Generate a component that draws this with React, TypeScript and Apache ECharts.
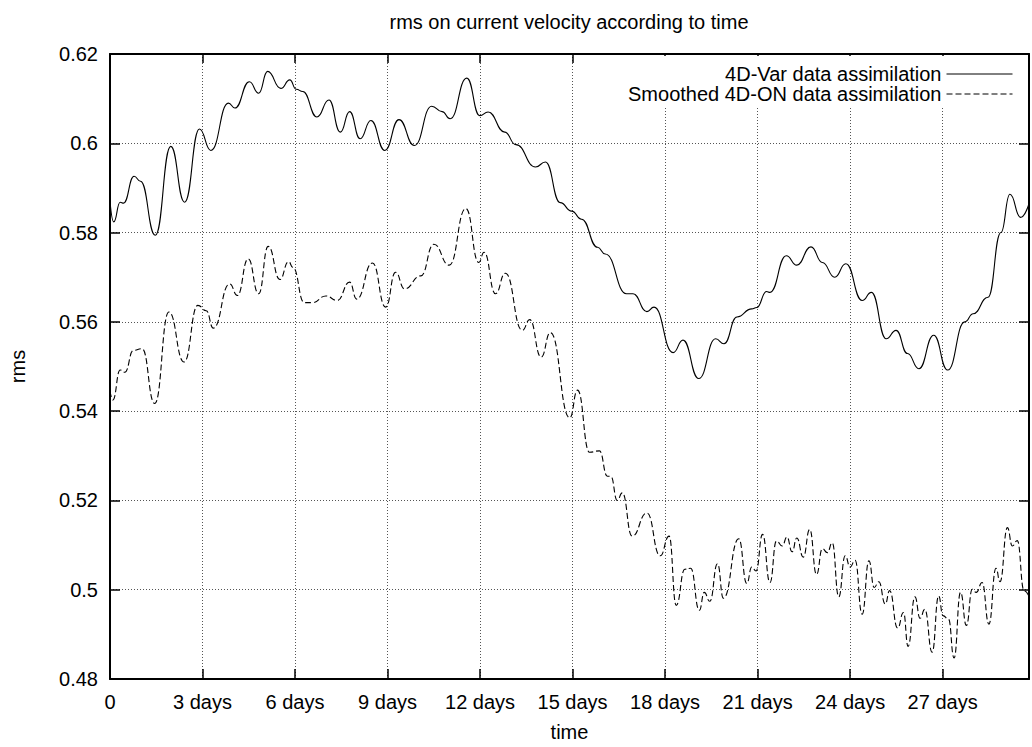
import { useEffect, useRef } from "react";
import * as echarts from "echarts";

// 4D-Var data assimilation (solid)
const varDays = [0, 0.12, 0.33, 0.44, 0.78, 0.99, 1.47, 1.97, 2.42, 2.9, 3.27, 3.84, 4.05, 4.52, 4.82, 5.11, 5.54, 5.83, 6.04, 6.25, 6.71, 7.1, 7.47, 7.77, 8.11, 8.46, 8.91, 9.37, 9.87, 10.43, 10.77, 11.03, 11.57, 11.99, 12.26, 12.8, 13.16, 13.8, 14.12, 14.6, 14.97, 15.29, 15.81, 16.06, 16.75, 16.96, 17.41, 17.64, 18.26, 18.58, 19.09, 19.64, 19.91, 20.33, 20.81, 20.97, 21.29, 21.4, 21.93, 22.27, 22.73, 23.1, 23.5, 23.86, 24.39, 24.69, 25.17, 25.49, 25.86, 26.23, 26.71, 27.16, 27.72, 27.99, 28.47, 28.89, 29.18, 29.53, 29.8];
const varRms = [0.587, 0.5824, 0.5868, 0.5866, 0.5926, 0.5915, 0.5794, 0.5993, 0.5868, 0.6032, 0.5984, 0.609, 0.6079, 0.6138, 0.6112, 0.6161, 0.6123, 0.6142, 0.6121, 0.6116, 0.6059, 0.6097, 0.6025, 0.6071, 0.601, 0.6051, 0.5984, 0.6053, 0.5995, 0.6083, 0.6071, 0.6055, 0.6146, 0.6062, 0.607, 0.6025, 0.5997, 0.5947, 0.5958, 0.5867, 0.5848, 0.583, 0.5767, 0.5752, 0.5663, 0.5663, 0.5623, 0.5633, 0.5531, 0.5559, 0.5473, 0.5562, 0.5551, 0.5611, 0.5629, 0.5632, 0.5668, 0.5666, 0.5748, 0.5727, 0.5768, 0.5733, 0.57, 0.573, 0.5648, 0.5666, 0.5562, 0.5581, 0.5529, 0.5495, 0.557, 0.5492, 0.56, 0.5618, 0.5655, 0.58, 0.5886, 0.5834, 0.5865];

// Smoothed 4D-ON data assimilation (dashed)
const onDays = [0, 0.09, 0.33, 0.48, 0.76, 1.04, 1.45, 1.91, 2.4, 2.85, 3.12, 3.35, 3.88, 4.13, 4.48, 4.82, 5.13, 5.51, 5.79, 5.93, 6.3, 6.57, 7.0, 7.37, 7.77, 8.0, 8.51, 8.94, 9.26, 9.55, 10.08, 10.5, 11.0, 11.54, 11.96, 12.13, 12.5, 12.82, 13.37, 13.61, 13.98, 14.28, 14.91, 15.16, 15.55, 15.87, 16.13, 16.24, 16.45, 16.61, 16.93, 17.41, 17.84, 18.13, 18.36, 18.64, 18.83, 19.11, 19.27, 19.45, 19.7, 19.89, 20.39, 20.65, 20.81, 20.95, 21.16, 21.4, 21.61, 21.8, 21.95, 22.12, 22.27, 22.48, 22.69, 22.91, 23.1, 23.26, 23.42, 23.63, 23.84, 24.0, 24.16, 24.39, 24.61, 24.78, 24.93, 25.14, 25.28, 25.54, 25.73, 25.88, 26.1, 26.27, 26.42, 26.66, 26.87, 27.01, 27.19, 27.37, 27.58, 27.77, 27.96, 28.09, 28.28, 28.5, 28.73, 28.86, 29.1, 29.26, 29.42, 29.64, 29.8];
const onRms = [0.5445, 0.5425, 0.5492, 0.5487, 0.5536, 0.554, 0.5417, 0.5622, 0.551, 0.5637, 0.5625, 0.5586, 0.5685, 0.5659, 0.5741, 0.5663, 0.5769, 0.5695, 0.5735, 0.5722, 0.5643, 0.5643, 0.5658, 0.5648, 0.5689, 0.5651, 0.5732, 0.5633, 0.5711, 0.5674, 0.5703, 0.5774, 0.5727, 0.5854, 0.5733, 0.5756, 0.5663, 0.5709, 0.5581, 0.5605, 0.5521, 0.5576, 0.5385, 0.5447, 0.5308, 0.5311, 0.5254, 0.5254, 0.52, 0.5217, 0.512, 0.5172, 0.5076, 0.512, 0.4965, 0.5046, 0.5048, 0.4954, 0.4994, 0.4974, 0.5058, 0.4981, 0.5114, 0.5014, 0.5051, 0.5042, 0.5124, 0.5016, 0.5109, 0.5098, 0.5118, 0.5085, 0.5116, 0.5073, 0.5135, 0.5034, 0.5092, 0.5083, 0.5105, 0.4984, 0.5076, 0.5051, 0.5066, 0.4945, 0.5065, 0.5005, 0.5018, 0.4968, 0.4998, 0.4914, 0.4949, 0.4873, 0.4984, 0.4936, 0.4956, 0.486, 0.4986, 0.4942, 0.4934, 0.4847, 0.4994, 0.492, 0.5001, 0.4994, 0.5016, 0.4923, 0.5048, 0.5018, 0.5139, 0.5098, 0.511, 0.4998, 0.4985];

const seriesNames = ["4D-Var data assimilation", "Smoothed 4D-ON data assimilation"];
const titleText = "rms on current velocity according to time";
const xName = "time";
const yName = "rms";
const xMin = 0;
const xMax = 29.8;
const xStep = 3;
const yMin = 0.48;
const yMax = 0.62;
const yStep = 0.02;

const FONT = "'Liberation Sans', Arial, Helvetica, sans-serif";

export default function App() {
  const ref = useRef<HTMLDivElement>(null);
  useEffect(() => {
    if (!ref.current) return;
    const chart = echarts.init(ref.current, null, { renderer: "svg" });
    const xLabel = (v: number) => {
      if (Math.abs(v / xStep - Math.round(v / xStep)) > 1e-6) return "";
      return v === 0 ? "0" : `${Math.round(v)} days`;
    };
    const yLabel = (v: number) => String(parseFloat(v.toFixed(2)));
    const gridLine = { show: true, lineStyle: { color: "#555", width: 1, type: [1, 2] } };
    const border = { show: true, onZero: false, lineStyle: { color: "#000", width: 2 } };
    const tick = { show: true, inside: true, length: 10, lineStyle: { color: "#000", width: 1.5 } };
    chart.setOption({
      animation: false,
      backgroundColor: "#fff",
      textStyle: { fontFamily: FONT, color: "#000" },
      title: {
        text: titleText,
        left: 569,
        top: 12,
        padding: 0,
        textAlign: "center",
        textStyle: { fontFamily: FONT, fontSize: 20, fontWeight: "normal", color: "#000" },
      },
      legend: {
        orient: "vertical",
        align: "right",
        right: 14,
        top: 56,
        itemWidth: 66,
        itemHeight: 20,
        itemGap: 0,
        padding: [8, 5, 3, 4],
        backgroundColor: "#fff",
        itemStyle: { opacity: 0, borderWidth: 0 },
        lineStyle: { width: 1 },
        textStyle: { fontFamily: FONT, fontSize: 20, color: "#000" },
        data: seriesNames,
      },
      grid: { left: 102, right: -5, top: 54, bottom: 64, containLabel: false },
      xAxis: [
        {
          type: "value",
          position: "bottom",
          min: xMin,
          max: xMax,
          interval: xStep,
          axisLine: border,
          axisTick: tick,
          axisLabel: { formatter: xLabel, fontSize: 20, color: "#000", fontFamily: FONT, margin: 13 },
          splitLine: gridLine,
          name: xName,
          nameLocation: "middle",
          nameGap: 43,
          nameTextStyle: { fontSize: 20, color: "#000", fontFamily: FONT },
        },
        {
          type: "value",
          position: "top",
          min: xMin,
          max: xMax,
          interval: xStep,
          axisLine: border,
          axisTick: { ...tick, length: 9 },
          axisLabel: { show: false },
          splitLine: { show: false },
        },
      ],
      yAxis: [
        {
          type: "value",
          position: "left",
          min: yMin,
          max: yMax,
          interval: yStep,
          axisLine: border,
          axisTick: tick,
          axisLabel: { formatter: yLabel, fontSize: 20, color: "#000", fontFamily: FONT, margin: 12 },
          splitLine: gridLine,
          name: yName,
          nameLocation: "middle",
          nameRotate: 90,
          nameGap: 82,
          nameTextStyle: { fontSize: 20, color: "#000", fontFamily: FONT },
        },
        {
          type: "value",
          position: "right",
          min: yMin,
          max: yMax,
          interval: yStep,
          axisLine: border,
          axisTick: tick,
          axisLabel: { show: false },
          splitLine: { show: false },
        },
      ],
      series: [
        {
          name: seriesNames[0],
          type: "line",
          data: varDays.map((d, i) => [d, varRms[i]]),
          showSymbol: false,
          symbol: "none",
          smooth: 0.5,
          smoothMonotone: "x",
          lineStyle: { color: "#000", width: 1.1, type: "solid" },
          itemStyle: { color: "#000" },
        },
        {
          name: seriesNames[1],
          type: "line",
          data: onDays.map((d, i) => [d, onRms[i]]),
          showSymbol: false,
          symbol: "none",
          smooth: 0.5,
          smoothMonotone: "x",
          lineStyle: { color: "#000", width: 1.1, type: [6, 3] },
          itemStyle: { color: "#000" },
        },
      ],
    });
    return () => chart.dispose();
  }, []);
  return (
    <div
      ref={ref}
      style={{ position: "fixed", left: 0, top: 0, width: 1032, height: 747, background: "#fff" }}
    />
  );
}
